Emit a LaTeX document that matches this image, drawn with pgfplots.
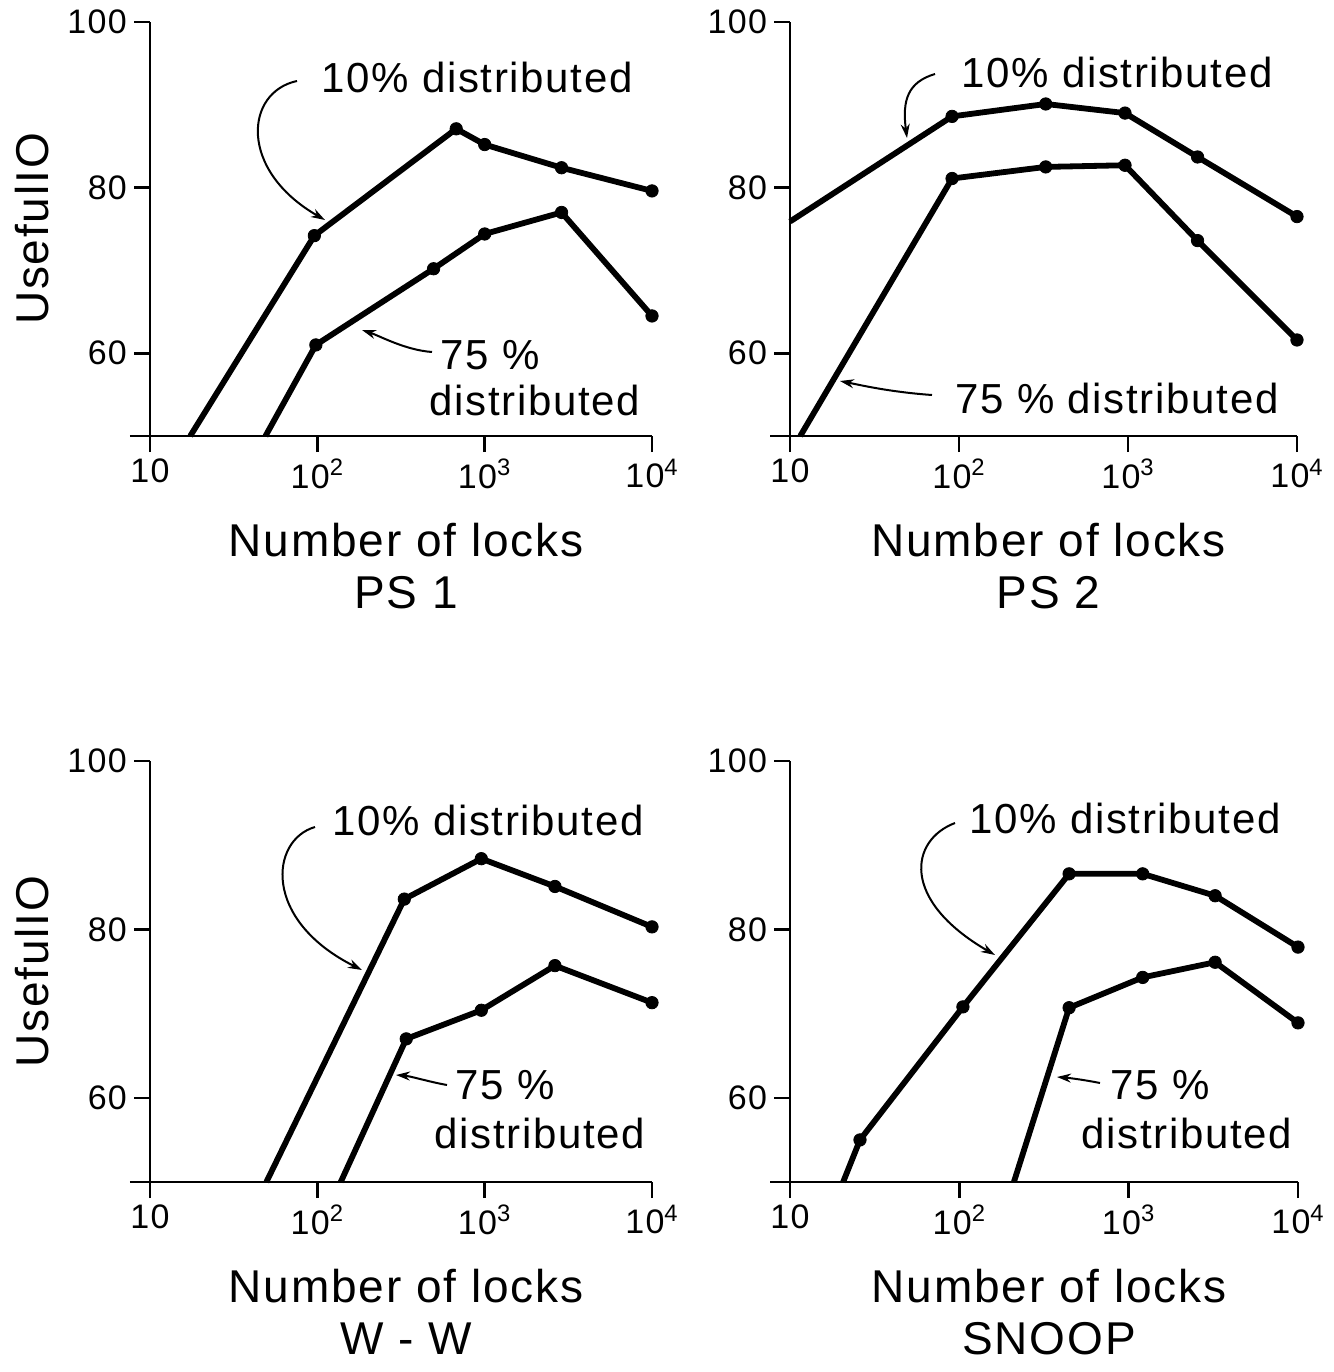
\documentclass[border=0pt]{standalone}
\usepackage{fontspec}
\setmainfont{Liberation Sans}[LetterSpace=4]
\usepackage{pgfplots}
\pgfplotsset{compat=1.18}
\usetikzlibrary{arrows.meta}

\pgfplotsset{
  /pgf/number format/assume math mode=true,
  ser/.style={black, line width=2.9pt, mark=*, mark size=3.1pt,
    mark options={solid, fill=black, line width=0.4pt}},
  lockax/.style={
    scale only axis,
    xmin=10, xmax=10000, ymin=50, ymax=100,
    axis lines*=left,
    axis line style={line width=1.3pt},
    x axis line style={shorten <=-10pt},
    xtick={10,100,1000,10000},
    xticklabels={10,10\textsuperscript{2},10\textsuperscript{3},10\textsuperscript{4}},
    xminorticks=false,
    ytick={60,80,100},
    tick align=outside, major tick length=8pt,
    tick style={line width=1.3pt, black},
    ticklabel style={font=\fontsize{17}{20}\selectfont},
    xlabel style={font=\fontsize{23}{26}\selectfont, align=center,
      at={(axis description cs:0.51,0)}, anchor=north, yshift=-40pt},
    ylabel style={font=\fontsize{23}{26}\selectfont,
      at={(axis description cs:0,0.5)}, anchor=south, yshift=47pt},
    clip=false,
  },
}

\begin{document}
\begin{tikzpicture}
% pixel frame of the reference (1334 x 1372), 0.5pt per pixel
\begin{scope}[x=0.5pt, y=-0.5pt, shift={(-75pt,218pt)}]
  \path[use as bounding box] (0,0) rectangle (1334,1372);
\end{scope}

% PS 1
\begin{semilogxaxis}[lockax, at={(0pt,0pt)}, anchor=south west,
  width=251pt, height=207pt,
  xlabel={Number of locks\\PS 1}, ylabel={UsefulIO}]
  \addplot[ser, mark indices={2,3,4,5,6}] coordinates {
    (17.4,50) (96,74.2) (676,87.1) (1000,85.2) (2880,82.4) (10000,79.6)};
  \addplot[ser, mark indices={2,3,4,5,6}] coordinates {
    (49,50) (98,61.0) (495,70.2) (1000,74.4) (2880,77.0) (10000,64.5)};
\end{semilogxaxis}

% PS 2
\begin{semilogxaxis}[lockax, at={(320pt,0pt)}, anchor=south west,
  width=253.5pt, height=207pt,
  xlabel={Number of locks\\PS 2}]
  \addplot[ser, mark indices={2,3,4,5,6}] coordinates {
    (10,75.9) (91,88.6) (326,90.1) (960,89.0) (2580,83.7) (10000,76.5)};
  \addplot[ser, mark indices={2,3,4,5,6}] coordinates {
    (11.5,50) (91,81.1) (326,82.5) (960,82.7) (2580,73.6) (10000,61.6)};
\end{semilogxaxis}

% W-W
\begin{semilogxaxis}[lockax, at={(0pt,-373pt)}, anchor=south west,
  width=251pt, height=210.5pt,
  xlabel={Number of locks\\W - W}, ylabel={UsefulIO}]
  \addplot[ser, mark indices={2,3,4,5}] coordinates {
    (49.6,50) (331,83.6) (955,88.4) (2630,85.1) (10000,80.3)};
  \addplot[ser, mark indices={2,3,4,5}] coordinates {
    (138,50) (340,67.0) (955,70.4) (2630,75.7) (10000,71.3)};
\end{semilogxaxis}

% SNOOP
\begin{semilogxaxis}[lockax, at={(320pt,-373pt)}, anchor=south west,
  width=254pt, height=210.5pt,
  xlabel={Number of locks\\SNOOP}]
  \addplot[ser, mark indices={2,3,4,5,6,7}] coordinates {
    (20.6,50) (25.9,55.0) (105,70.8) (445,86.6) (1210,86.6) (3240,84.0) (10000,77.9)};
  \addplot[ser, mark indices={2,3,4,5}] coordinates {
    (210,50) (445,70.7) (1210,74.3) (3240,76.1) (10000,68.9)};
\end{semilogxaxis}

% annotations, in pixel coordinates of the reference
\begin{scope}[x=0.5pt, y=-0.5pt, shift={(-75pt,218pt)},
  every node/.style={font=\fontsize{21}{24}\selectfont, inner sep=0pt},
  ann/.style={line width=1pt, -{Stealth[length=7pt,width=4.5pt]}}]
  % PS 1
  \node at (477,77) {10\% distributed};
  \draw[ann] (297,81) .. controls (245,92) and (238,170) .. (325,220);
  \node at (490,355) {75 \%};
  \node at (535,400) {distributed};
  \draw[ann] (432,352) .. controls (405,350) and (380,336) .. (362,330);
  % PS 2
  \node at (1117,72) {10\% distributed};
  \draw[ann] (935,74) .. controls (908,82) and (902,100) .. (907,138);
  \node at (1117,398) {75 \% distributed};
  \draw[ann] (932,395) .. controls (890,392) and (860,385) .. (840,381);
  % W-W
  \node at (488,820) {10\% distributed};
  \draw[ann] (315,827) .. controls (270,840) and (262,920) .. (362,970);
  \node at (505,1085) {75 \%};
  \node at (540,1133) {distributed};
  \draw[ann] (447,1085) .. controls (430,1082) and (410,1076) .. (396,1075);
  % SNOOP
  \node at (1125,818) {10\% distributed};
  \draw[ann] (955,823) .. controls (910,840) and (900,900) .. (995,955);
  \node at (1160,1085) {75 \%};
  \node at (1187,1133) {distributed};
  \draw[ann] (1100,1083) .. controls (1085,1080) and (1070,1078) .. (1057,1077);
\end{scope}
\end{tikzpicture}
\end{document}
